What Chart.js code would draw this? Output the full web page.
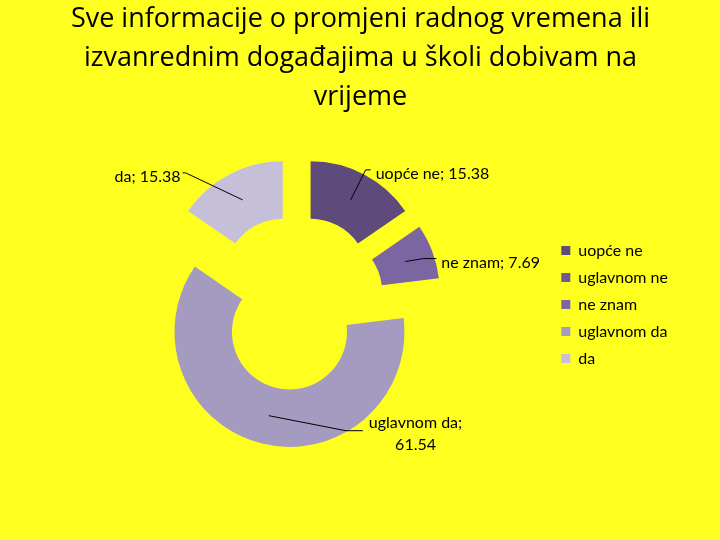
<!DOCTYPE html>
<html>
<head>
<meta charset="utf-8">
<script src="https://cdn.jsdelivr.net/npm/chart.js@4.4.1/dist/chart.umd.min.js"></script>
<style>
  html, body { margin: 0; padding: 0; background: #ffff1f; }
  canvas { display: block; }
</style>
</head>
<body>
<canvas id="chart" width="720" height="540"></canvas>
<script>
// podaci s grafa
const titleLines = [
  'Sve informacije o promjeni radnog vremena ili',
  'izvanrednim događajima u školi dobivam na',
  'vrijeme'
];
const categories = ['uopće ne', 'uglavnom ne', 'ne znam', 'uglavnom da', 'da'];
const values = [15.38, 0, 7.69, 61.54, 15.38];
const colors = ['#5f4a7c', '#6d5a8e', '#7c66a2', '#a59ac0', '#c6bfd9'];

const FONT = 'Lato, "Open Sans", sans-serif';
const EXPLODE = 30; // razmak izvučenih isječaka

// linije do oznaka: pomak do lakta, pa vodoravni rep
const leaders = [
  { dx: 15, dy: -30, tail: 5 },
  null,
  { dx: 18, dy: -3, tail: 13 },
  { dx: 77, dy: 15, tail: 17, wrap: true },
  { dx: -57, dy: -27, tail: -3 }
];

const explodePlugin = {
  id: 'explode',
  afterDatasetsUpdate(chart) {
    chart.getDatasetMeta(0).data.forEach(arc => {
      const mid = (arc.startAngle + arc.endAngle) / 2;
      arc.x += Math.cos(mid) * EXPLODE;
      arc.y += Math.sin(mid) * EXPLODE;
    });
  }
};

const labelPlugin = {
  id: 'sliceLabels',
  afterDatasetsDraw(chart) {
    const ctx = chart.ctx;
    ctx.save();
    ctx.strokeStyle = '#000';
    ctx.fillStyle = '#000';
    ctx.lineWidth = 1;
    ctx.font = '16px ' + FONT;
    ctx.textBaseline = 'middle';
    chart.getDatasetMeta(0).data.forEach((arc, i) => {
      const ld = leaders[i];
      if (!ld || !values[i]) return;
      const mid = (arc.startAngle + arc.endAngle) / 2;
      const rm = (arc.innerRadius + arc.outerRadius) / 2;
      const x0 = arc.x + Math.cos(mid) * rm;
      const y0 = arc.y + Math.sin(mid) * rm;
      const x1 = x0 + ld.dx, y1 = y0 + ld.dy;
      const x2 = x1 + ld.tail;
      ctx.beginPath();
      ctx.moveTo(x0, y0);
      ctx.lineTo(x1, y1);
      ctx.lineTo(x2, y1);
      ctx.stroke();

      if (ld.wrap) {
        const l1 = categories[i] + ';';
        const l2 = String(values[i]);
        const w = Math.max(ctx.measureText(l1).width, ctx.measureText(l2).width);
        ctx.textAlign = 'center';
        ctx.fillText(l1, x2 + 6 + w / 2, y1 - 8);
        ctx.fillText(l2, x2 + 6 + w / 2, y1 + 14);
      } else {
        const txt = categories[i] + '; ' + values[i];
        const right = ld.tail >= 0;
        ctx.textAlign = right ? 'left' : 'right';
        ctx.fillText(txt, right ? x2 + 5 : x2 - 2, y1 + 4);
      }
    });
    ctx.restore();
  }
};

new Chart(document.getElementById('chart'), {
  type: 'doughnut',
  data: {
    labels: categories,
    datasets: [{
      data: values,
      backgroundColor: colors,
      borderWidth: 0,
      radius: 115,
      cutout: '50%',
      clip: false
    }]
  },
  options: {
    responsive: false,
    animation: false,
    layout: {
      padding: { top: 0, bottom: 61, left: 43, right: 42 }
    },
    plugins: {
      title: {
        display: true,
        text: titleLines,
        color: '#000',
        font: { family: '"Open Sans", sans-serif', size: 27, weight: 'normal', lineHeight: 1.44 },
        padding: { top: 0, bottom: 10 }
      },
      legend: {
        position: 'right',
        title: {
          // prazan naslov samo spušta stavke legende
          display: true,
          text: ' ',
          font: { size: 10, lineHeight: 1.2 },
          padding: { top: 0, bottom: 118 }
        },
        labels: {
          color: '#000',
          font: { family: FONT, size: 16 },
          boxWidth: 9,
          boxHeight: 9,
          padding: 11
        }
      },
      tooltip: { enabled: false }
    }
  },
  plugins: [explodePlugin, labelPlugin]
});
</script>
</body>
</html>
